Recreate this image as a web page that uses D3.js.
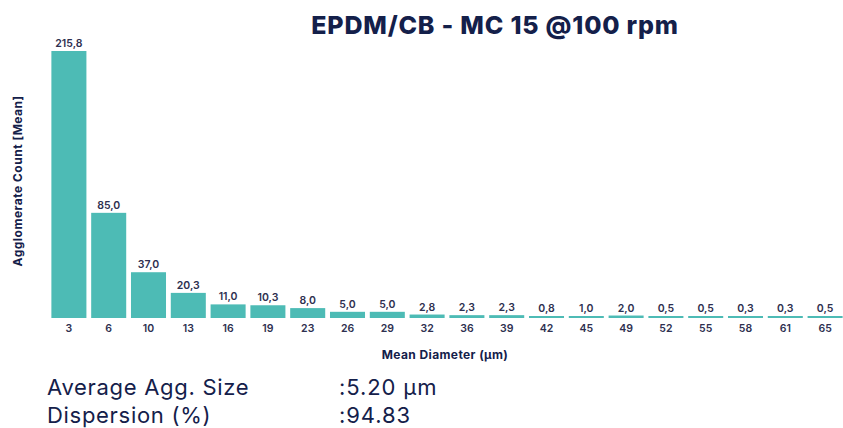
<!DOCTYPE html>
<html lang="en">
<head>
    <meta charset="UTF-8">
    <title>EPDM/CB - MC 15 @100 rpm</title>
    <script src="https://d3js.org/d3.v7.min.js"></script>
    <style>
        body { margin: 0; background: #fff; }
        svg { font-family: Inter, "Noto Sans", sans-serif; }
    </style>
</head>
<body>
    <div id="chart"></div>
    <script>
        // chart data
        var diameters = ['3', '6', '10', '13', '16', '19', '23', '26', '29', '32', '36', '39', '42', '45', '49', '52', '55', '58', '61', '65'];
        var counts = [215.8, 85.0, 37.0, 20.3, 11.0, 10.3, 8.0, 5.0, 5.0, 2.8, 2.3, 2.3, 0.8, 1.0, 2.0, 0.5, 0.5, 0.3, 0.3, 0.5];
        var summaryLabels = ['Average Agg. Size', 'Dispersion (%)'];
        var summaryValues = [':5.20 µm', ':94.83'];

        var width = 843, height = 428;
        var navy = '#14204a';
        var barColor = '#4dbbb5';

        var svg = d3.select('#chart').append('svg')
            .attr('width', width)
            .attr('height', height);

        var data = diameters.map((d, i) => ({ key: d, value: counts[i] }));

        var x = d3.scaleBand()
            .domain(diameters)
            .range([49, 845])
            .paddingInner(0.12)
            .paddingOuter(0.06);

        var y = d3.scaleLinear()
            .domain([0, d3.max(counts)])
            .range([318, 51]);

        // tiny values still get a visible sliver
        var barTop = v => Math.min(y(v), y(0) - 2);

        // bars
        svg.selectAll('rect.bar')
            .data(data)
            .enter()
            .append('rect')
            .attr('class', 'bar')
            .attr('x', d => x(d.key))
            .attr('y', d => barTop(d.value))
            .attr('width', x.bandwidth())
            .attr('height', d => y(0) - barTop(d.value))
            .attr('fill', barColor);

        // value labels
        svg.selectAll('text.val')
            .data(data)
            .enter()
            .append('text')
            .attr('class', 'val')
            .attr('x', d => x(d.key) + x.bandwidth() / 2)
            .attr('y', d => barTop(d.value) - 4)
            .attr('text-anchor', 'middle')
            .attr('font-size', 10.5)
            .attr('font-weight', 600)
            .attr('fill', '#2e3050')
            .text(d => d.value.toFixed(1).replace('.', ','));

        // x axis (labels only)
        var xAxis = svg.append('g')
            .attr('transform', 'translate(0,' + y(0) + ')')
            .call(d3.axisBottom(x).tickSize(0).tickPadding(7));
        xAxis.select('.domain').remove();
        xAxis.selectAll('text')
            .attr('font-size', 10.5)
            .attr('font-weight', 600)
            .attr('font-family', 'Inter, "Noto Sans", sans-serif')
            .attr('fill', '#2e3050');

        // axis titles
        svg.append('text')
            .attr('x', 445)
            .attr('y', 359)
            .attr('text-anchor', 'middle')
            .attr('font-size', 12)
            .attr('font-weight', 700)
            .attr('letter-spacing', 0.4)
            .attr('fill', navy)
            .text('Mean Diameter (µm)');

        svg.append('text')
            .attr('transform', 'translate(22,181) rotate(-90)')
            .attr('text-anchor', 'middle')
            .attr('font-size', 12)
            .attr('font-weight', 700)
            .attr('letter-spacing', 0.5)
            .attr('fill', navy)
            .text('Agglomerate Count [Mean]');

        // title
        svg.append('text')
            .attr('x', 495)
            .attr('y', 34)
            .attr('text-anchor', 'middle')
            .attr('font-size', 25)
            .attr('font-weight', 800)
            .attr('letter-spacing', 0.8)
            .attr('fill', navy)
            .text('EPDM/CB - MC 15 @100 rpm');

        // summary lines
        var summary = svg.selectAll('g.summary')
            .data(summaryLabels)
            .enter()
            .append('g')
            .attr('class', 'summary')
            .attr('transform', (d, i) => 'translate(0,' + (395 + i * 28) + ')');

        summary.append('text')
            .attr('x', 47)
            .attr('font-size', 22)
            .attr('letter-spacing', 0.7)
            .attr('fill', navy)
            .text(d => d);

        summary.append('text')
            .attr('x', 339)
            .attr('font-size', 22)
            .attr('letter-spacing', 0.9)
            .attr('fill', navy)
            .text((d, i) => summaryValues[i]);
    </script>
</body>
</html>
